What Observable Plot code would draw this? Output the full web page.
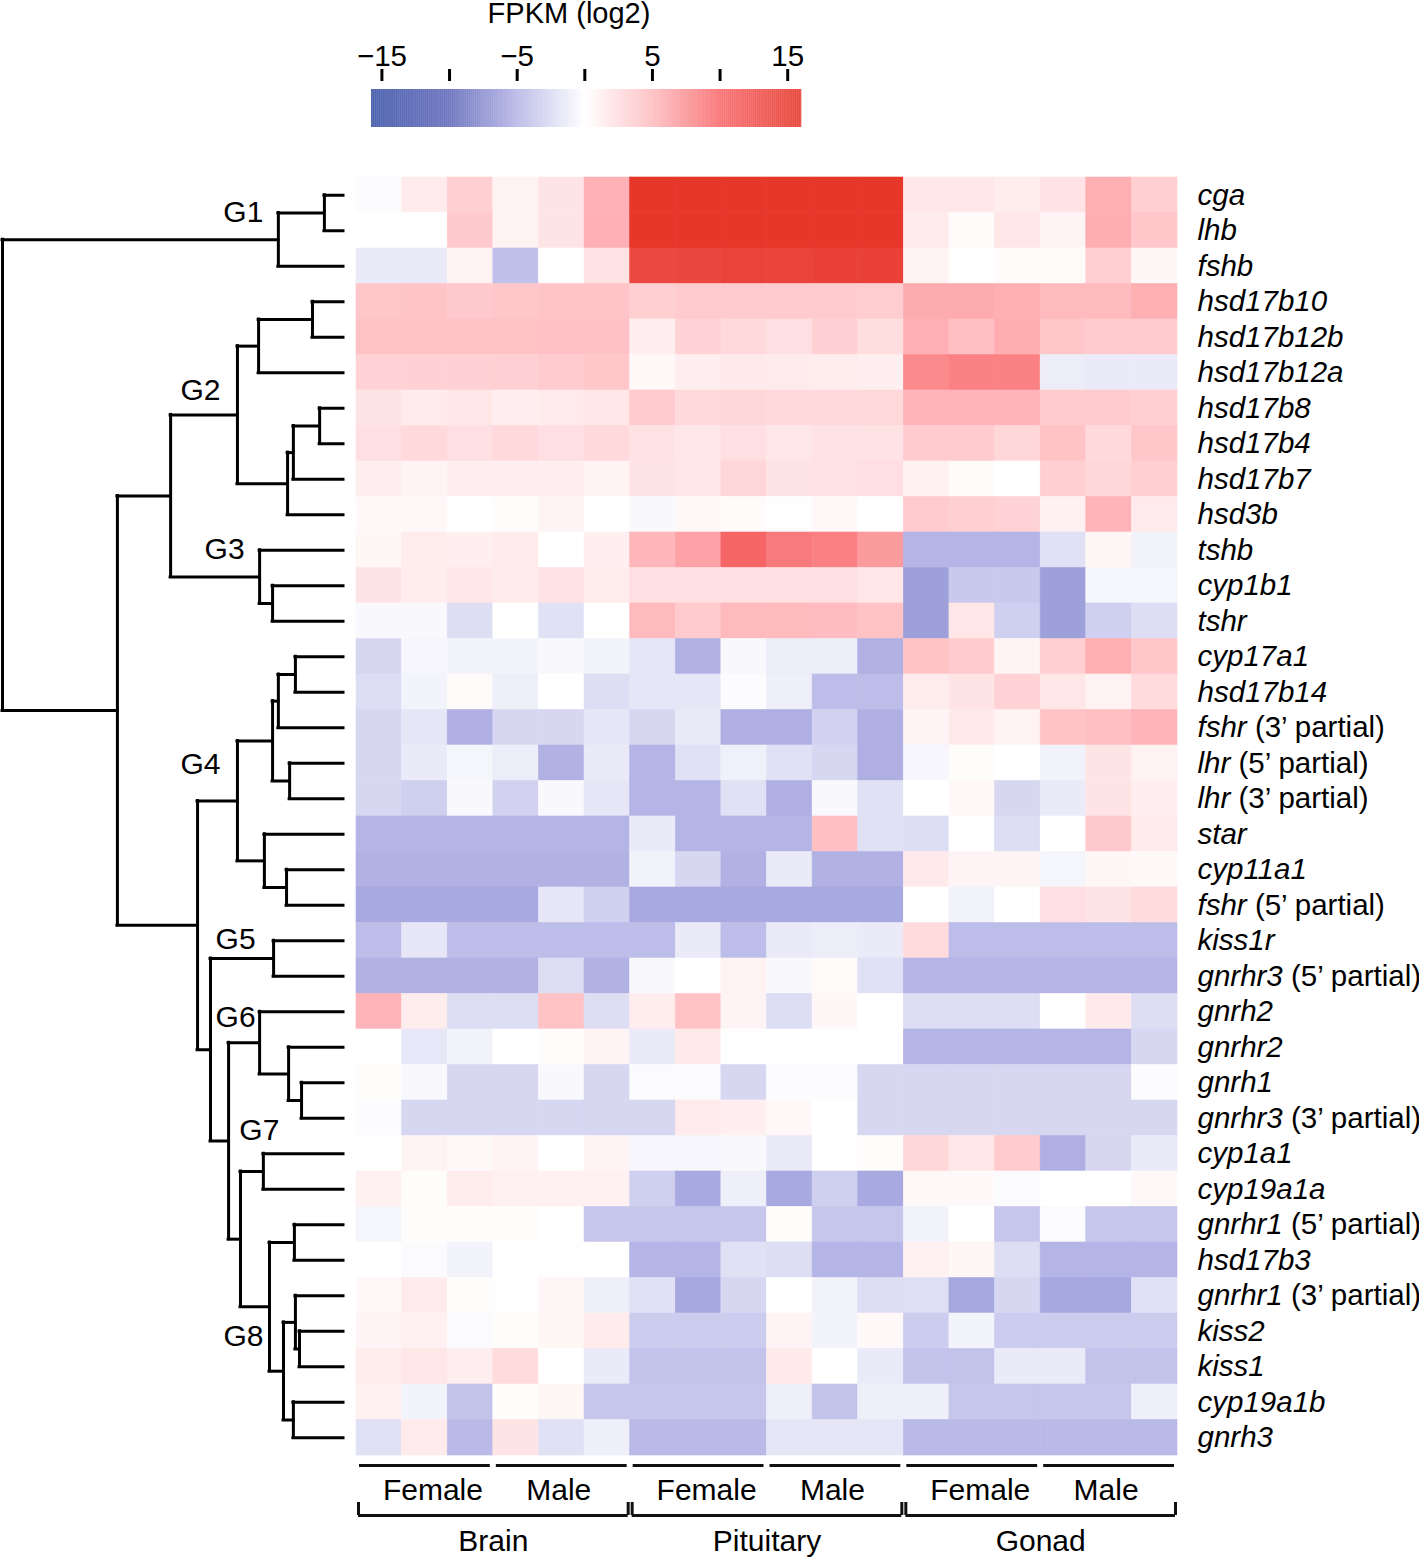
<!DOCTYPE html>
<html><head><meta charset="utf-8">
<script src="https://cdn.jsdelivr.net/npm/d3@7"></script>
<script src="https://cdn.jsdelivr.net/npm/@observablehq/plot@0.6"></script>
<style>
body{margin:0;background:#fff;}
#chart{position:relative;width:1419px;height:1557px;font-family:"Liberation Sans",Arial,sans-serif;}
#chart svg{position:absolute;left:0;top:0;}
#title{position:absolute;top:-1px;left:569px;transform:translateX(-50%);font-size:29px;line-height:29px;white-space:nowrap;color:#000;}
</style></head><body><div id="chart"><div id="title">FPKM (log2)</div></div>
<script>
// ---------------- data ----------------
const genes = ["cga","lhb","fshb","hsd17b10","hsd17b12b","hsd17b12a","hsd17b8","hsd17b4","hsd17b7","hsd3b",
  "tshb","cyp1b1","tshr","cyp17a1","hsd17b14","fshr (3’ partial)","lhr (5’ partial)","lhr (3’ partial)",
  "star","cyp11a1","fshr (5’ partial)","kiss1r","gnrhr3 (5’ partial)","gnrh2","gnrhr2","gnrh1",
  "gnrhr3 (3’ partial)","cyp1a1","cyp19a1a","gnrhr1 (5’ partial)","hsd17b3","gnrhr1 (3’ partial)",
  "kiss2","kiss1","cyp19a1b","gnrh3"];
const tissues = ["Brain","Pituitary","Gonad"];
const sexes = ["Female","Male"];
const replicates = 3;
// log2 FPKM, columns: Brain F1-3, M1-3 | Pituitary F1-3, M1-3 | Gonad F1-3, M1-3
const log2fpkm = [
 [-0.2,1.5,3.6,1.0,2.0,5.6, 15.8,15.8,15.8,15.8,15.8,15.8, 1.9,1.9,1.4,2.1,5.8,3.6],
 [0,0,4.0,1.0,2.0,5.7, 15.8,15.8,15.8,15.8,15.8,15.8, 1.5,0.4,1.8,0.8,5.9,4.2],
 [-1.5,-1.5,1.0,-4.2,0,2.2, 13.8,14.0,14.4,14.4,14.6,14.6, 1.0,0.1,0.3,0.3,3.6,0.6],
 [4.2,4.4,4.0,4.2,4.4,4.4, 3.6,3.9,3.9,3.9,3.9,3.7, 6.0,6.0,5.8,5.1,5.1,5.8],
 [4.5,4.5,4.5,4.5,4.6,4.6, 1.2,3.3,2.8,2.3,3.4,2.5, 5.7,4.8,5.9,4.2,3.9,3.9],
 [3.3,3.4,3.4,3.5,3.9,4.2, 0.5,1.3,1.6,1.5,1.4,1.2, 8.0,8.5,8.5,-1.2,-1.4,-1.4],
 [2.0,1.5,1.8,1.3,1.5,1.8, 3.9,2.8,3.0,2.8,2.8,2.9, 5.5,5.5,5.5,3.9,3.9,3.6],
 [2.4,2.8,2.4,2.8,2.4,2.8, 2.2,1.8,2.4,1.8,2.2,2.2, 3.9,3.9,3.0,4.5,2.8,4.2],
 [1.3,0.8,1.3,1.3,1.3,0.9, 2.0,1.8,3.0,2.0,2.2,2.4, 1.1,0.3,0,3.6,3.0,3.6],
 [0.5,0.5,0,0.2,0.8,0, -0.5,0.5,0.3,0.1,0.5,0, 3.9,3.6,3.3,1.1,5.5,1.5],
 [0.7,1.4,1.2,1.5,0,1.2, 5.3,6.5,10.4,9.0,8.6,7.0, -5.0,-5.0,-5.0,-2.0,0.7,-0.9],
 [2.0,1.4,1.8,1.5,2.2,1.4, 2.4,2.4,2.4,2.4,2.4,1.8, -6.3,-3.6,-3.6,-6.3,-0.7,-0.7],
 [-0.5,-0.5,-2.3,0,-2.0,-0.1, 5.1,3.9,5.1,5.1,5.0,4.5, -6.3,1.8,-3.2,-6.3,-3.2,-2.3],
 [-2.7,-0.6,-0.8,-0.8,-0.5,-0.8, -1.7,-5.2,-0.5,-1.2,-1.2,-5.2, 4.5,3.9,0.8,3.6,5.8,4.2],
 [-2.3,-0.8,0.4,-1.1,0,-2.3, -1.7,-1.7,-0.2,-1.1,-4.4,-4.4, 1.4,2.0,3.3,1.8,1.0,2.7],
 [-2.7,-1.7,-5.3,-2.7,-2.7,-1.7, -2.7,-1.4,-5.3,-5.3,-3.0,-5.3, 0.8,1.6,1.0,4.5,4.8,5.5],
 [-2.7,-1.4,-0.7,-1.2,-5.2,-1.4, -5.0,-2.0,-1.0,-2.0,-2.7,-5.3, -0.6,0.2,0,-0.9,2.0,1.0],
 [-2.7,-3.2,-0.4,-3.0,-0.4,-1.7, -5.0,-5.0,-2.0,-5.3,-0.5,-2.0, 0,0.5,-2.7,-1.4,2.0,1.3],
 [-5,-5,-5,-5,-5,-5, -1.4,-5,-5,-5,4.8,-2.0, -2.3,0,-2.3,0,4.0,1.5],
 [-5.2,-5.2,-5.2,-5.2,-5.2,-5.2, -0.9,-2.7,-5.2,-1.4,-5.2,-5.2, 1.6,0.8,0.8,-0.7,0.7,0.5],
 [-5.7,-5.7,-5.7,-5.7,-1.7,-3.2, -5.7,-5.7,-5.7,-5.7,-5.7,-5.7, 0,-0.9,0,2.4,2.0,2.7],
 [-4.4,-1.7,-4.4,-4.4,-4.4,-4.4, -4.4,-1.4,-4.4,-1.4,-1.2,-1.4, 2.7,-4.4,-4.4,-4.4,-4.4,-4.4],
 [-5.2,-5.2,-5.2,-5.2,-2.3,-5.2, -0.5,0,1.0,-0.5,0.4,-2.0, -5,-5,-5,-5,-5,-5],
 [5.5,1.4,-2.3,-2.3,4.5,-2.3, 1.4,4.5,0.8,-2.3,0.6,0, -2.3,-2.3,-2.3,0,1.6,-2.3],
 [0,-1.6,-0.9,0,0.2,0.8, -1.4,1.6,0.1,0,0,0, -5,-5,-5,-5,-5,-2.7],
 [0.2,-0.4,-2.7,-2.7,-0.4,-2.7, -0.3,-0.3,-2.7,-0.2,-0.2,-2.7, -2.7,-2.7,-2.7,-2.7,-2.7,-0.2],
 [-0.2,-2.7,-2.7,-2.7,-2.7,-2.7, -2.7,1.5,1.2,0.5,0,-2.7, -2.7,-2.7,-2.7,-2.7,-2.7,-2.7],
 [0,0.8,0.5,0.8,0,0.8, -0.6,-0.6,-0.4,-1.4,0,0.2, 3.0,1.8,3.9,-5.3,-2.7,-1.4],
 [1.1,0.2,1.4,1.1,1.1,1.1, -3.2,-5.7,-1.1,-5.7,-3.2,-5.7, 0.5,0.5,-0.3,0,0,0.5],
 [-0.7,0.2,0.2,0.2,0,-3.8, -3.8,-3.8,-3.8,0.2,-3.8,-3.8, -0.9,0,-3.8,-0.3,-3.8,-3.8],
 [0,-0.3,-0.8,0,0.1,0, -5,-5,-2.0,-2.3,-5,-5, 1.1,0.7,-2.3,-5,-5,-5],
 [0.5,1.5,0.2,0.1,0.6,-1.1, -2.0,-5.8,-2.7,0,-0.9,-2.3, -2.2,-5.8,-2.7,-5.8,-5.8,-2.0],
 [0.8,1.1,-0.3,0.2,0.7,1.5, -3.4,-3.4,-3.4,0.8,-0.8,0.5, -3.4,-0.8,-3.4,-3.4,-3.4,-3.4],
 [1.4,1.8,1.3,2.7,0,-1.4, -4.1,-4.1,-4.1,1.6,0,-1.4, -4.1,-4.1,-1.4,-1.4,-4.1,-4.1],
 [1.1,-0.8,-4.1,0.2,0.7,-3.8, -3.8,-3.8,-3.8,-1.1,-4.1,-1.1, -1.1,-3.8,-3.8,-3.8,-3.8,-1.1],
 [-2.0,1.5,-4.6,2.0,-2.0,-1.1, -4.6,-4.6,-4.6,-1.7,-1.7,-1.7, -4.6,-4.6,-4.6,-4.6,-4.6,-4.6]
];
// hierarchical clustering merges: [childA, childB, height]; "#k" refers to merge k
const merges = [
 ["cga","lhb",5.6], ["#0","fshb",19.1],
 ["hsd17b10","hsd17b12b",9.1], ["#2","hsd17b12a",24.9],
 ["hsd17b8","hsd17b4",7.0], ["#4","hsd17b7",14.7], ["#5","hsd3b",16.4], ["#3","#6",31.1],
 ["cyp1b1","tshr",20.8], ["tshb","#8",24.6], ["#7","#9",50.7],
 ["cyp17a1","hsd17b14",14.1], ["#11","fshr (3’ partial)",19.1],
 ["lhr (5’ partial)","lhr (3’ partial)",15.8], ["#12","#13",20.8],
 ["cyp11a1","fshr (5’ partial)",16.7], ["star","#15",23.2], ["#14","#16",31.1],
 ["kiss1r","gnrhr3 (5’ partial)",20.5],
 ["gnrh1","gnrhr3 (3’ partial)",12.3], ["gnrhr2","#19",16.1], ["gnrh2","#20",24.6],
 ["cyp1a1","cyp19a1a",23.5],
 ["gnrhr1 (5’ partial)","hsd17b3",14.4], ["kiss2","kiss1",12.9], ["gnrhr1 (3’ partial)","#24",14.1],
 ["cyp19a1b","gnrh3",14.7], ["#25","#26",17.6], ["#23","#27",21.7],
 ["#22","#28",30.2], ["#21","#29",33.7], ["#18","#30",39.0], ["#17","#31",42.8],
 ["#10","#32",66.3], ["#1","#33",100]
];
const groupNames = ["G1","G2","G3","G4","G5","G6","G7","G8"];
const groupNodes = ["#1","#7","#9","#17","#18","#21","#22","#28"];
const legendTicks = [-15,-10,-5,0,5,10,15];
const legendLabelled = [-15,-5,5,15];
const colorStops = [-15.77,-10,-5,0,5,10,16.02];
const colorRange = ["#3a52a6","#6168b9","#b4b4e6","#ffffff","#ffbcc0","#f8696b","#e53528"];

// ---------------- layout / style ----------------
const W = 1419, H = 1557;
const FONT = "'Liberation Sans', Arial, sans-serif";
const FS = 29.5;
const FS2 = 30;
const groupOffsets = {G1:[-15,-27],G2:[-17,-25],G3:[-15,-27],G4:[-17,-37],G5:[-18,-19],G6:[-4,-25],G7:[16,-41],G8:[-6,30]};
const sexLabelShift = {Female: 8, Male: -3};
const colorSpec = {type:"linear", domain: colorStops, range: colorRange, interpolate: "rgb"};
const nCols = tissues.length * sexes.length * replicates;

const cells = [];
log2fpkm.forEach((row, r) => row.forEach((v, c) => cells.push({r, c, v})));
const sexGroups = tissues.flatMap((t, ti) => sexes.map((s, si) => ({label: s, start: (ti*sexes.length+si)*replicates, end: (ti*sexes.length+si+1)*replicates})));
const tissueGroups = tissues.map((t, ti) => ({label: t, start: ti*sexes.length*replicates, end: (ti+1)*sexes.length*replicates}));

const chart = document.getElementById("chart");

// legend
const legendSteps = d3.range(colorStops[0], colorStops[colorStops.length-1], 0.05);
const legend = Plot.plot({
  width: W, height: 135, marginLeft: 371, marginRight: W-801, marginTop: 80, marginBottom: 8,
  x: {domain: [colorStops[0], colorStops[colorStops.length-1]]},
  y: {domain: [0,1], range: [127, 89], axis: null},
  color: colorSpec,
  style: {background: "transparent", fontFamily: FONT, fontSize: "29px", color: "#000", overflow: "visible"},
  marks: [
    Plot.rect(legendSteps, {x1: d => d, x2: d => d + 0.06, y1: 0, y2: 1, fill: d => d}),
    Plot.axisX({anchor: "top", ticks: legendTicks, tickSize: 12, tickPadding: 3, strokeWidth: 3,
      tickFormat: d => legendLabelled.includes(d) ? (d < 0 ? "−" + (-d) : String(d)) : "", fontSize: 29.5})
  ]
});
chart.appendChild(legend);

// heatmap
const heat = Plot.plot({
  width: W, height: H, marginLeft: 356, marginRight: W-1177, marginTop: 177, marginBottom: H-1455,
  x: {domain: [0, nCols], axis: null},
  y: {domain: [0, genes.length], reverse: true, axis: null},
  color: colorSpec,
  style: {background: "transparent", fontFamily: FONT, fontSize: FS+"px", color: "#000", overflow: "visible"},
  marks: [
    Plot.rect(cells, {x1: "c", x2: d => d.c + 1, y1: "r", y2: d => d.r + 1, fill: "v", stroke: "v", strokeWidth: 0.6}),
    Plot.text(genes, {x: nCols, y: (d, i) => i + 0.5, text: d => d, textAnchor: "start", dx: 20, fontSize: FS, fontStyle: "italic", fill: "#000"}),
    Plot.ruleY(sexGroups, {y: genes.length, x1: "start", x2: "end", dy: 10, insetLeft: 3, insetRight: 3, strokeWidth: 3, stroke: "#111"}),
    ...sexes.map(s => Plot.text(sexGroups.filter(g => g.label === s), {x: d => (d.start + d.end)/2, y: genes.length, dy: 35, dx: sexLabelShift[s], text: "label", fontSize: FS2, fill: "#000"})),
    Plot.ruleY(tissueGroups, {y: genes.length, x1: "start", x2: "end", dy: 60, insetLeft: 2, insetRight: 2, strokeWidth: 3, stroke: "#111"}),
    Plot.ruleX(tissueGroups, {x: "start", y1: genes.length, y2: genes.length, dy: 60, dx: 2, insetTop: 0, insetBottom: 13, strokeWidth: 3, stroke: "#111"}),
    Plot.ruleX(tissueGroups, {x: "end", y1: genes.length, y2: genes.length, dy: 60, dx: -2, insetTop: 0, insetBottom: 13, strokeWidth: 3, stroke: "#111"}),
    Plot.text(tissueGroups, {x: d => (d.start + d.end)/2, y: genes.length, dy: 86, text: "label", fontSize: FS2, fill: "#000"})
  ]
});
chart.appendChild(heat);

// italic gene names, upright "(x’ partial)"
heat.querySelectorAll("text").forEach(t => {
  const s = t.textContent;
  const k = s.indexOf(" (");
  if (k > 0 && genes.includes(s)) {
    t.textContent = "";
    const ns = "http://www.w3.org/2000/svg";
    const a = document.createElementNS(ns, "tspan"); a.textContent = s.slice(0, k);
    const b = document.createElementNS(ns, "tspan"); b.textContent = s.slice(k); b.setAttribute("font-style", "normal");
    t.appendChild(a); t.appendChild(b);
  }
});

// dendrogram
const nodeY = {}, nodeH = {};
genes.forEach((g, i) => { nodeY[g] = i + 0.5; nodeH[g] = 0; });
const verticals = [], horizontals = [];
merges.forEach(([a, b, h], k) => {
  const id = "#" + k;
  nodeY[id] = (nodeY[a] + nodeY[b]) / 2; nodeH[id] = h;
  verticals.push({h, ya: nodeY[a], yb: nodeY[b]});
  horizontals.push({y: nodeY[a], h1: h, h2: nodeH[a]}, {y: nodeY[b], h1: h, h2: nodeH[b]});
});
const groupLabels = groupNames.map((g, i) => ({label: g, h: nodeH[groupNodes[i]], y: nodeY[groupNodes[i]]}));
const maxH = d3.max(merges, d => d[2]);
const dendro = Plot.plot({
  width: 356, height: H, marginLeft: 2, marginRight: 13, marginTop: 177, marginBottom: H-1455,
  x: {domain: [maxH, 0], axis: null},
  y: {domain: [0, genes.length], reverse: true, axis: null},
  style: {background: "transparent", fontFamily: FONT, fontSize: FS2+"px", color: "#000", overflow: "visible"},
  marks: [
    Plot.ruleX(verticals, {x: "h", y1: "ya", y2: "yb", strokeWidth: 3, stroke: "#000", strokeLinecap: "square"}),
    Plot.ruleY(horizontals, {y: "y", x1: "h1", x2: "h2", strokeWidth: 3, stroke: "#000", strokeLinecap: "square"}),
    ...groupLabels.map(g => Plot.text([g], {x: "h", y: "y", text: "label", textAnchor: "end", fontSize: FS2, fill: "#000",
      dx: groupOffsets[g.label][0], dy: groupOffsets[g.label][1]}))
  ]
});
chart.appendChild(dendro);
</script></body></html>
